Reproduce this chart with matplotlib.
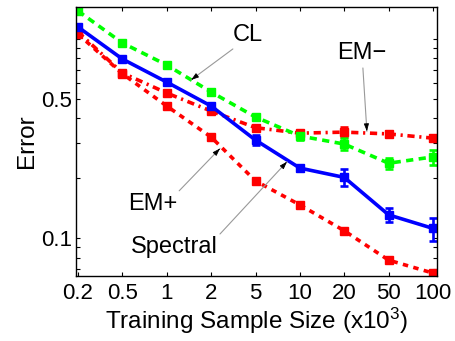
import numpy as np
import matplotlib
matplotlib.use("Agg")
import matplotlib.pyplot as plt
from matplotlib.ticker import FixedLocator, NullFormatter, FixedFormatter

plt.rcParams["font.family"] = ["Liberation Sans", "DejaVu Sans"]
plt.rcParams["mathtext.fontset"] = "custom"
plt.rcParams["mathtext.rm"] = "Liberation Sans"
plt.rcParams["mathtext.it"] = "Liberation Sans:italic"

# Training sample sizes (thousands)
sizes = ["0.2", "0.5", "1", "2", "5", "10", "20", "50", "100"]

# Mean error and error-bar half-width for each method
cl_mean = [1.384, 0.956, 0.741, 0.542, 0.406, 0.326, 0.297, 0.238, 0.256]
cl_err = [0.032, 0.022, 0.017, 0.019, 0.014, 0.015, 0.020, 0.016, 0.022]

spectral_mean = [1.150, 0.794, 0.608, 0.461, 0.311, 0.225, 0.202, 0.131, 0.112]
spectral_err = [0.027, 0.018, 0.014, 0.016, 0.018, 0.008, 0.020, 0.011, 0.015]

em_minus_mean = [1.086, 0.676, 0.536, 0.435, 0.359, 0.337, 0.341, 0.334, 0.318]
em_minus_err = [0.025, 0.016, 0.012, 0.010, 0.013, 0.012, 0.020, 0.012, 0.011]

em_plus_mean = [1.060, 0.670, 0.461, 0.322, 0.194, 0.147, 0.109, 0.0776, 0.0668]
em_plus_err = [0.025, 0.016, 0.011, 0.0075, 0.0045, 0.0034, 0.0025, 0.0018, 0.0016]

x = np.arange(len(sizes))

fig = plt.figure(figsize=(4.55, 3.41), dpi=100)
ax = fig.add_axes([76 / 455, 1 - 276 / 341, 361 / 455, 269 / 341])

red = (1.0, 0.0, 0.0)
green = (0.0, 1.0, 0.0)
blue = (0.0, 0.0, 1.0)
lw = 2.6
ms = 5.5

common = dict(marker="s", markersize=ms, capsize=2.8, elinewidth=1.9,
              capthick=1.9, linewidth=lw)

ax.errorbar(x, em_plus_mean, yerr=em_plus_err, color=red,
            dashes=(1.5, 1.5), **common)
ax.errorbar(x, em_minus_mean, yerr=em_minus_err, color=red,
            dashes=(2.0, 1.3, 0.6, 1.3), **common)
ax.errorbar(x, cl_mean, yerr=cl_err, color=green,
            dashes=(2.0, 1.5), **common)
ax.errorbar(x, spectral_mean, yerr=spectral_err, color=blue,
            linestyle="-", **common)

ax.set_yscale("log")
ax.set_xlim(-0.045, 8.09)
ax.set_ylim(0.0646, 1.449)

ax.set_xticks(x)
ax.set_xticklabels(sizes)
ax.yaxis.set_major_locator(FixedLocator([0.1, 0.5]))
ax.yaxis.set_major_formatter(FixedFormatter(["0.1", "0.5"]))
minor = [0.07, 0.08, 0.09, 0.2, 0.3, 0.4, 0.6, 0.7, 0.8, 0.9, 1.0]
ax.yaxis.set_minor_locator(FixedLocator(minor))
ax.yaxis.set_minor_formatter(NullFormatter())

ax.tick_params(axis="both", which="both", direction="in", top=True,
               right=True, length=3.2, width=0.8, color="black")
ax.tick_params(axis="x", labelsize=16, pad=5)
ax.tick_params(axis="y", labelsize=16, pad=3)
for s in ax.spines.values():
    s.set_linewidth(1.0)

ax.set_xlabel(r"Training Sample Size (x10$^3$)", fontsize=17.5, labelpad=1)
ax.set_ylabel("Error", fontsize=17.5, labelpad=2)


def on_curve(series, xpos):
    """Log-interpolated point on a series at fractional index xpos."""
    return 10 ** np.interp(xpos, x, np.log10(series))


def pointer(tail, tip):
    ax.annotate("", xy=tip, xytext=tail,
                arrowprops=dict(arrowstyle="-", color="0.6", lw=0.8,
                                shrinkA=0, shrinkB=0))
    # short black arrowhead at the tip
    lx = tip[0] - 0.03 * (tip[0] - tail[0])
    ly = 10 ** (np.log10(tip[1]) - 0.03 * (np.log10(tip[1]) - np.log10(tail[1])))
    ax.annotate("", xy=tip, xytext=(lx, ly),
                arrowprops=dict(arrowstyle="-|>,head_length=0.45,head_width=0.15",
                                color="black", lw=0.6, shrinkA=0, shrinkB=0))


label_kw = dict(fontsize=17, ha="center", va="center")
ax.text(3.83, 1.05, "CL", **label_kw)
ax.text(6.40, 0.851, "EM\u2212", **label_kw)
ax.text(1.69, 0.148, "EM+", **label_kw)
ax.text(2.16, 0.0905, "Spectral", **label_kw)

pointer((3.49, 0.892), (2.55, on_curve(cl_mean, 2.55)))
pointer((6.42, 0.716), (6.51, on_curve(em_minus_mean, 6.51) * 1.02))
pointer((2.28, 0.173), (3.20, on_curve(em_plus_mean, 3.20) * 0.97))
pointer((3.20, 0.105), (4.71, on_curve(spectral_mean, 4.71) * 0.98))

fig.savefig("out.png", dpi=100)
